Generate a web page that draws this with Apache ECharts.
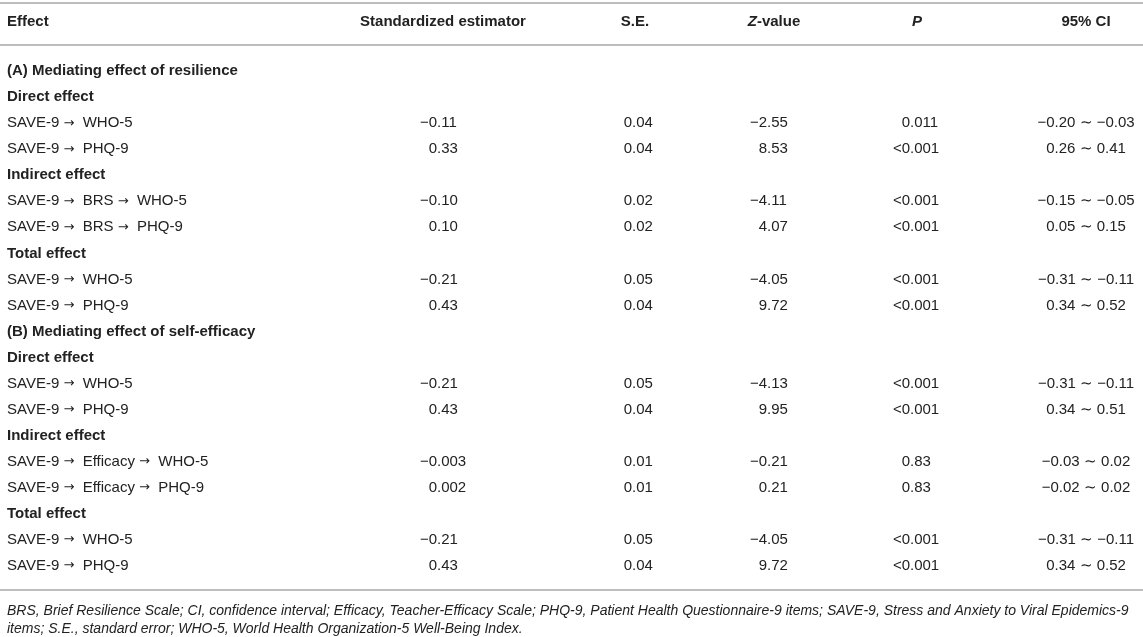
<!DOCTYPE html>
<html>
<head>
<meta charset="utf-8">
<script src="https://cdn.jsdelivr.net/npm/echarts@6/dist/echarts.min.js"></script>
<style>
  html, body { margin: 0; padding: 0; background: #fff; }
  #table { width: 1143px; height: 637px; }
</style>
</head>
<body>
<div id="table"></div>
<script>
// row labels and kind: section = (A)/(B) heading, group = bold sub heading, row = values
const rowLabels = [
    '(A) Mediating effect of resilience',
    'Direct effect',
    'SAVE-9 \u2192  WHO-5',
    'SAVE-9 \u2192  PHQ-9',
    'Indirect effect',
    'SAVE-9 \u2192  BRS \u2192  WHO-5',
    'SAVE-9 \u2192  BRS \u2192  PHQ-9',
    'Total effect',
    'SAVE-9 \u2192  WHO-5',
    'SAVE-9 \u2192  PHQ-9',
    '(B) Mediating effect of self-efficacy',
    'Direct effect',
    'SAVE-9 \u2192  WHO-5',
    'SAVE-9 \u2192  PHQ-9',
    'Indirect effect',
    'SAVE-9 \u2192  Efficacy \u2192  WHO-5',
    'SAVE-9 \u2192  Efficacy \u2192  PHQ-9',
    'Total effect',
    'SAVE-9 \u2192  WHO-5',
    'SAVE-9 \u2192  PHQ-9'
];
const rowKinds = ['section', 'group', 'row', 'row', 'group', 'row', 'row', 'group', 'row', 'row',
    'section', 'group', 'row', 'row', 'group', 'row', 'row', 'group', 'row', 'row'];

const estimates = ['', '', '\u22120.11', '0.33', '', '\u22120.10', '0.10', '', '\u22120.21', '0.43',
    '', '', '\u22120.21', '0.43', '', '\u22120.003', '0.002', '', '\u22120.21', '0.43'];
const stdErrors = ['', '', '0.04', '0.04', '', '0.02', '0.02', '', '0.05', '0.04',
    '', '', '0.05', '0.04', '', '0.01', '0.01', '', '0.05', '0.04'];
const zValues = ['', '', '\u22122.55', '8.53', '', '\u22124.11', '4.07', '', '\u22124.05', '9.72',
    '', '', '\u22124.13', '9.95', '', '\u22120.21', '0.21', '', '\u22124.05', '9.72'];
const pValues = ['', '', '0.011', '<0.001', '', '<0.001', '<0.001', '', '<0.001', '<0.001',
    '', '', '<0.001', '<0.001', '', '0.83', '0.83', '', '<0.001', '<0.001'];
const ciLow = ['', '', '\u22120.20', '0.26', '', '\u22120.15', '0.05', '', '\u22120.31', '0.34',
    '', '', '\u22120.31', '0.34', '', '\u22120.03', '\u22120.02', '', '\u22120.31', '0.34'];
const ciHigh = ['', '', '\u22120.03', '0.41', '', '\u22120.05', '0.15', '', '\u22120.11', '0.52',
    '', '', '\u22120.11', '0.51', '', '0.02', '0.02', '', '\u22120.11', '0.52'];

const footnote = [
    'BRS, Brief Resilience Scale; CI, confidence interval; Efficacy, Teacher-Efficacy Scale; PHQ-9, Patient Health Questionnaire-9 items; SAVE-9, Stress and Anxiety to Viral Epidemics-9',
    'items; S.E., standard error; WHO-5, World Health Organization-5 Well-Being Index.'
];

const FONT = '"Liberation Sans", Arial, Helvetica, sans-serif';
const INK = '#222';
const RULE = '#bdbdbd';

// decimal point positions of the value columns (x axis runs 0..1143 = pixels)
const colEst = 437, colSe = 632, colZ = 767, colP = 910, colCi = 1086;

var chart = echarts.init(document.getElementById('table'));

function cellText(x, y, text, align, bold) {
    return {
        type: 'text',
        style: {
            x: x, y: y, text: text,
            textAlign: align, textVerticalAlign: 'middle',
            fontSize: 15, fontFamily: FONT, fontWeight: bold ? 'bold' : 'normal',
            fill: INK,
            rich: {
                a: { fontSize: 13, fontFamily: '"DejaVu Sans"', fill: INK }
            }
        }
    };
}

// split at the decimal point so numbers line up on it
function decimalCell(api, anchor, row, text) {
    if (!text) return [];
    var i = text.indexOf('.');
    var p = api.coord([anchor, row]);
    if (i < 0) return [cellText(p[0], p[1], text, 'right')];
    return [
        cellText(p[0], p[1], text.slice(0, i), 'right'),
        cellText(p[0], p[1], text.slice(i), 'left')
    ];
}

function renderRow(params, api) {
    var row = api.value(0);
    var kind = rowKinds[row];
    var left = api.coord([7, row]);
    var label = rowLabels[row].replace(/\u2192/g, '{a|\u2192}');
    var children = [cellText(left[0], left[1], label, 'left', kind !== 'row')];
    if (kind === 'row') {
        children = children
            .concat(decimalCell(api, colEst, row, estimates[row]))
            .concat(decimalCell(api, colSe, row, stdErrors[row]))
            .concat(decimalCell(api, colZ, row, zValues[row]))
            .concat(decimalCell(api, colP, row, pValues[row]));
        var c = api.coord([colCi, row]);
        children.push(cellText(c[0], c[1], ciLow[row] + ' \u223c ' + ciHigh[row], 'center'));
    }
    return { type: 'group', children: children };
}

function headText(x, text, align) {
    return {
        type: 'text', x: x, y: 22,
        style: {
            text: text, textAlign: align, textVerticalAlign: 'middle',
            font: 'bold 15px ' + FONT, fill: INK
        }
    };
}

function rule(y) {
    return {
        type: 'line',
        shape: { x1: 0, y1: y, x2: 1143, y2: y },
        style: { stroke: RULE, lineWidth: 2 }
    };
}

chart.setOption({
    animation: false,
    grid: { left: 0, right: 0, top: 58, bottom: 58 },
    xAxis: { type: 'value', min: 0, max: 1143, show: false },
    yAxis: {
        type: 'category', inverse: true, show: false,
        data: rowLabels.map(function (d, i) { return i; })
    },
    graphic: [
        rule(3),
        rule(45),
        rule(590),
        headText(7, 'Effect', 'left'),
        headText(443, 'Standardized estimator', 'center'),
        headText(635, 'S.E.', 'center'),
        {
            type: 'text', x: 774, y: 22,
            style: {
                text: '{i|Z}-value', textAlign: 'center', textVerticalAlign: 'middle',
                font: 'bold 15px ' + FONT, fill: INK,
                rich: { i: { fontStyle: 'italic', fontWeight: 'bold', fontSize: 15, fontFamily: FONT, fill: INK } }
            }
        },
        {
            type: 'text', x: 917, y: 22,
            style: {
                text: 'P', textAlign: 'center', textVerticalAlign: 'middle',
                font: 'italic bold 15px ' + FONT, fill: INK
            }
        },
        headText(1086, '95% CI', 'center'),
        {
            type: 'text', x: 7, y: 611,
            style: {
                text: footnote[0], textVerticalAlign: 'middle',
                font: 'italic 14px ' + FONT, fill: INK
            }
        },
        {
            type: 'text', x: 7, y: 629,
            style: {
                text: footnote[1], textVerticalAlign: 'middle',
                font: 'italic 14px ' + FONT, fill: INK
            }
        }
    ],
    series: [{
        type: 'custom',
        renderItem: renderRow,
        data: rowLabels.map(function (d, i) { return [i]; }),
        encode: { x: -1, y: 0 }
    }]
});

window.addEventListener('resize', function () {
    chart.resize();
});
</script>
</body>
</html>
